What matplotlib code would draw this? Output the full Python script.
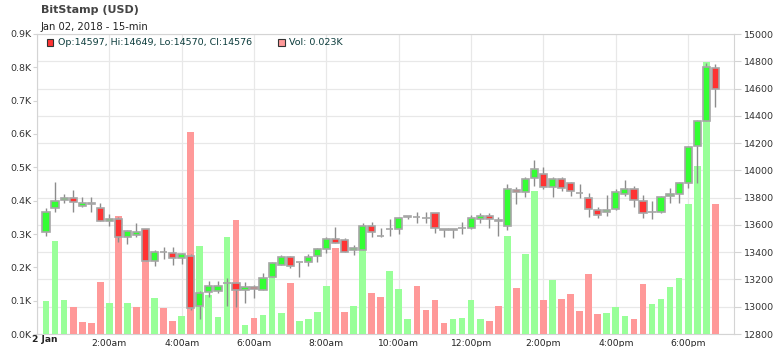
"""
BitStamp (USD) 15-min candles for Jan 02, 2018 with volume bars underneath.
"""
import numpy as np
import pandas as pd
import matplotlib
matplotlib.use("Agg")
import matplotlib.pyplot as plt
import matplotlib.dates as mdates
from matplotlib.patches import Rectangle

plt.rcParams["font.family"] = ["DejaVu Sans"]

# ---- data (15-min bars, time = bar close) ----
opens = [13546, 13721, 13780, 13795, 13741, 13763, 13726, 13629, 13643, 13509,
         13528, 13568, 13335, 13404, 13397, 13357, 13375, 13003, 13106, 13113,
         13177, 13177, 13125, 13147, 13125, 13216, 13306, 13367, 13328, 13328,
         13372, 13421, 13497, 13489, 13416, 13416, 13595, 13519, 13568, 13568,
         13655, 13660, 13648, 13685, 13570, 13566, 13575, 13575, 13643, 13668,
         13638, 13592, 13856, 13841, 13944, 13973, 13876, 13934, 13905, 13836,
         13795, 13709, 13697, 13714, 13827, 13866, 13778, 13692, 13692, 13812,
         13827, 13905, 14179, 14362, 14753]
highs = [13722, 13912, 13824, 13856, 13802, 13802, 13758, 13680, 13660, 13563,
         13612, 13568, 13416, 13436, 13441, 13397, 13387, 13118, 13191, 13191,
         13208, 13181, 13179, 13159, 13245, 13331, 13377, 13375, 13330, 13387,
         13428, 13514, 13587, 13502, 13455, 13617, 13619, 13575, 13641, 13660,
         13664, 13697, 13697, 13685, 13572, 13570, 13619, 13673, 13690, 13685,
         13660, 13898, 13880, 13954, 14076, 14022, 13954, 13954, 13917, 13900,
         13832, 13734, 13819, 13861, 13929, 13888, 13817, 13778, 13810, 13868,
         13917, 14179, 14369, 14785, 14780]
lows = [13519, 13697, 13763, 13692, 13734, 13697, 13629, 13595, 13477, 13458,
        13509, 13335, 13299, 13348, 13304, 13311, 12976, 12908, 13069, 13098,
        13005, 13001, 13030, 13062, 13123, 13216, 13306, 13284, 13221, 13299,
        13326, 13397, 13465, 13399, 13377, 13416, 13514, 13514, 13519, 13533,
        13645, 13612, 13612, 13538, 13514, 13502, 13533, 13568, 13617, 13575,
        13519, 13563, 13753, 13807, 13885, 13861, 13807, 13851, 13812, 13795,
        13656, 13648, 13665, 13709, 13812, 13734, 13648, 13641, 13690, 13763,
        13763, 13868, 13905, 14362, 14467]
closes = [13697, 13778, 13795, 13768, 13763, 13753, 13629, 13643, 13509, 13558,
          13546, 13335, 13404, 13402, 13357, 13389, 12991, 13103, 13152, 13155,
          13177, 13123, 13147, 13130, 13213, 13323, 13367, 13299, 13328, 13367,
          13421, 13497, 13470, 13399, 13433, 13595, 13551, 13519, 13568, 13653,
          13662, 13658, 13648, 13575, 13566, 13568, 13575, 13653, 13668, 13643,
          13626, 13861, 13841, 13939, 14008, 13880, 13934, 13868, 13849, 13836,
          13714, 13673, 13709, 13844, 13866, 13783, 13685, 13692, 13807, 13824,
          13905, 14174, 14362, 14756, 14594]
volumes_k = [0.099, 0.279, 0.102, 0.081, 0.036, 0.033, 0.156, 0.093, 0.355, 0.093,
             0.081, 0.270, 0.109, 0.079, 0.039, 0.054, 0.606, 0.264, 0.117, 0.052,
             0.290, 0.342, 0.027, 0.049, 0.057, 0.170, 0.063, 0.153, 0.039, 0.045,
             0.066, 0.144, 0.258, 0.066, 0.084, 0.270, 0.123, 0.111, 0.190, 0.135,
             0.045, 0.144, 0.072, 0.102, 0.033, 0.045, 0.048, 0.102, 0.045, 0.039,
             0.084, 0.294, 0.139, 0.240, 0.429, 0.102, 0.163, 0.106, 0.120, 0.069,
             0.180, 0.060, 0.063, 0.081, 0.054, 0.045, 0.150, 0.090, 0.105, 0.141,
             0.168, 0.390, 0.504, 0.816, 0.390]

# values shown in the legend line (latest bar)
last_ohlc = {"Op": 14597, "Hi": 14649, "Lo": 14570, "Cl": 14576}
last_vol_k = 0.023

tick_labels = ["2 Jan", "2:00am", "4:00am", "6:00am", "8:00am", "10:00am",
               "12:00pm", "2:00pm", "4:00pm", "6:00pm"]
price_ticks = list(range(12800, 15001, 200))
vol_ticks = [0.0, 0.1, 0.2, 0.3, 0.4, 0.5, 0.6, 0.7, 0.8, 0.9]

day = pd.Timestamp("2018-01-02 00:00")
times = pd.date_range("2018-01-02 00:15", periods=len(closes), freq="15min")

o = np.array(opens, float)
h = np.array(highs, float)
l = np.array(lows, float)
c = np.array(closes, float)
v = np.array(volumes_k, float)

UP, DOWN = "#33ff33", "#ff3333"
VUP, VDOWN = "#99ff99", "#ff9999"
EDGE = "#a6a6a6"
GRID = "#e8e8e8"
SPINE = "#d4d4d4"

bar_w = 15 / (24 * 60)  # 15 min in days

fig = plt.figure(figsize=(7.74, 3.47), dpi=100)
rect = [37 / 774, 13 / 347, 697 / 774, 300 / 347]

# bottom layer: white background + grid on the price scale
ax_grid = fig.add_axes(rect)
# middle: volume (left scale), top: candles (right scale)
ax_vol = fig.add_axes(rect, sharex=ax_grid)
ax_px = fig.add_axes(rect, sharex=ax_grid)
for a in (ax_vol, ax_px):
    a.patch.set_visible(False)

xmin, xmax = day, pd.Timestamp("2018-01-02 19:16")
ax_grid.set_xlim(xmin, xmax)

ax_grid.set_ylim(12800, 15000)
ax_grid.set_yticks(price_ticks)
ax_grid.set_xticks(pd.date_range(day, "2018-01-02 19:00", freq="1h"))
ax_grid.grid(True, color=GRID, lw=0.9)
ax_grid.tick_params(left=False, labelleft=False, bottom=False, labelbottom=False)
for s in ax_grid.spines.values():
    s.set_color(SPINE)

# volume bars
prev = np.r_[c[0] - 1, c[:-1]]
vcols = [VUP if cc >= pp else VDOWN for cc, pp in zip(c, prev)]
ax_vol.bar(times, v, width=bar_w * 0.74, color=vcols, linewidth=0)
ax_vol.set_ylim(0, 0.9)
ax_vol.set_yticks(vol_ticks)
ax_vol.set_yticklabels([f"{t:.1f}K" for t in vol_ticks])
ax_vol.tick_params(axis="y", left=True, labelleft=True, length=3, width=0.8,
                   color=SPINE, labelsize=6.8, labelcolor="#333333", pad=1)
ax_vol.tick_params(axis="x", bottom=False, labelbottom=False)
for s in ax_vol.spines.values():
    s.set_visible(False)

# candles
ax_px.vlines(times, l, h, color="#8c8c8c", lw=1.0, zorder=1)
body_lo = np.minimum(o, c)
body_h = np.abs(c - o)
bcols = [UP if cc >= oo else DOWN for oo, cc in zip(o, c)]
ax_px.bar(times, body_h, bottom=body_lo, width=bar_w * 0.8, color=bcols,
          edgecolor=EDGE, linewidth=1.2, zorder=2)
ax_px.set_ylim(12800, 15000)
ax_px.yaxis.tick_right()
ax_px.set_yticks(price_ticks)
ax_px.tick_params(axis="y", right=True, left=False, length=5, width=0.8,
                  color=SPINE, labelsize=6.8, labelcolor="#333333", pad=2)
ax_px.tick_params(axis="x", bottom=False, labelbottom=False)
for s in ax_px.spines.values():
    s.set_visible(False)

# x labels (drawn on the top axes so they stay visible)
xt = pd.date_range(day, periods=len(tick_labels), freq="2h")
ax_px.set_xticks(xt)
ax_px.set_xticklabels([""] + tick_labels[1:])
ax_px.tick_params(axis="x", labelbottom=True, bottom=False, labelsize=6.6,
                  labelcolor="#222222", pad=0)
ax_px.annotate(tick_labels[0], xy=(mdates.date2num(xt[0]), 0),
               xycoords=ax_px.get_xaxis_transform(),
               xytext=(-3.6, -0.4), textcoords="offset points", ha="left", va="top",
               fontsize=6.6, fontweight="bold", color="#222222")
ax_px.set_xlim(xmin, xmax)

# titles
fig.text(41 / 774, 1 - 10 / 347, "BitStamp (USD)", fontsize=8.0, fontweight="bold",
         color="#444444", va="center", ha="left")
fig.text(41 / 774, 1 - 27 / 347, "Jan 02, 2018 - 15-min", fontsize=7.2,
         color="#222222", va="center", ha="left")

# legend line
ly = 1 - 42.7 / 347
sq = 6.5
fig.add_artist(Rectangle((46.7 / 774, ly - sq / 2 / 347), sq / 774, sq / 347,
                         transform=fig.transFigure, facecolor=DOWN,
                         edgecolor="#333333", lw=0.8))
ohlc_txt = ", ".join(f"{k}:{val}" for k, val in last_ohlc.items())
fig.text(58 / 774, ly, ohlc_txt, fontsize=6.8, color="#0c3c3c", va="center", ha="left")
fig.add_artist(Rectangle((278 / 774, ly - sq / 2 / 347), sq / 774, sq / 347,
                         transform=fig.transFigure, facecolor=VDOWN,
                         edgecolor="#333333", lw=0.8))
fig.text(289 / 774, ly, f"Vol: {last_vol_k:.3f}K", fontsize=6.8, color="#0c3c3c",
         va="center", ha="left")

fig.savefig("out.png", dpi=100)
